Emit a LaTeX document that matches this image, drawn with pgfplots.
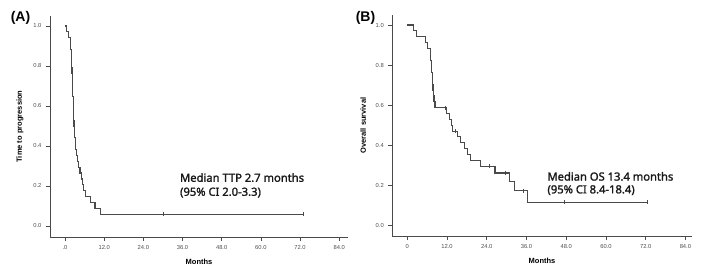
\documentclass[border=0pt]{standalone}
\usepackage{pgfplots}
\usepackage{pgfplotstable}
\pgfplotsset{compat=1.18}
\usepackage{fontspec}
\setmainfont{Liberation Sans}
\newfontfamily\annfont[FakeBold=1.6]{Noto Sans}

\pgfplotstableread{
t S
0 1.000
0.5 0.971
1.2 0.941
1.7 0.912
1.8 0.882
1.9 0.853
2.0 0.824
2.1 0.794
2.15 0.765
2.2 0.735
2.3 0.706
2.35 0.676
2.4 0.647
2.5 0.618
2.55 0.588
2.6 0.559
2.7 0.529
2.75 0.500
2.85 0.471
3.0 0.441
3.1 0.412
3.2 0.382
3.4 0.353
3.8 0.324
4.2 0.294
4.6 0.265
5.0 0.235
5.4 0.206
5.8 0.176
6.4 0.147
7.7 0.118
9.2 0.088
11.0 0.059
73.0 0.059
}\ttp
\pgfplotstableread{
t S
30.1 0.059
73.0 0.059
}\ttpc

\pgfplotstableread{
t S
0 1.000
2.0 0.971
2.9 0.941
5.4 0.912
6.2 0.882
6.9 0.853
7.0 0.824
7.2 0.794
7.3 0.765
7.5 0.735
7.6 0.706
7.8 0.676
7.9 0.647
8.1 0.618
8.4 0.588
11.9 0.559
12.7 0.529
13.4 0.500
13.6 0.471
15.2 0.443
16.2 0.414
17.3 0.385
18.3 0.356
19.2 0.327
22.0 0.297
26.5 0.263
31.0 0.219
32.5 0.175
36.4 0.117
72.6 0.117
}\os
\pgfplotstableread{
t S
11.6 0.588
14.4 0.471
24.8 0.297
29.5 0.263
35.0 0.175
47.4 0.117
72.6 0.117
}\osc

\definecolor{ln}{HTML}{4A4A4A}

\pgfplotsset{
  kmaxis/.style={
    scale only axis,
    anchor=south west,
    axis lines=left,
    axis line style={-, ln, line width=1pt},
    tick style={ln, line width=0.7pt},
    tick align=outside,
    major tick length=4pt,
    ymin=-0.055, ymax=1.05,
    ytick={0,0.2,0.4,0.6,0.8,1.0},
    yticklabels={0.0,0.2,0.4,0.6,0.8,1.0},
    xtick={0,12,24,36,48,60,72,84},
    ticklabel style={font=\fontsize{5.8}{6}\selectfont, text=black!70},
    /pgf/number format/assume math mode=true,
    xlabel={\bfseries Months},
    label style={font=\fontsize{7.5}{8}\selectfont},
    xlabel style={at={(ticklabel cs:0.5)}, anchor=north, yshift=-3pt},
    ylabel style={at={(ticklabel cs:0.5)}, anchor=south, yshift=3pt},
    xticklabel style={yshift=-1pt},
    yticklabel style={xshift=-1pt},
  },
  km/.style={const plot, no marks, ln, line width=1.1pt},
  cens/.style={only marks, mark=|, mark size=2pt, mark options={ln, line width=0.7pt}},
}

\begin{document}
\begin{tikzpicture}[x=1pt,y=1pt]
\path[use as bounding box] (0,0) rectangle (703,271);
\node[font=\fontsize{14}{16}\selectfont\bfseries, anchor=center] at (20.5,253.5) {(A)};
\node[font=\fontsize{14}{16}\selectfont\bfseries, anchor=center] at (365.5,253.5) {(B)};

\begin{axis}[kmaxis,
  at={(50pt,34pt)}, width=298pt, height=221pt,
  xmin=-4.6, xmax=86.7,
  xticklabels={.0,12.0,24.0,36.0,48.0,60.0,72.0,84.0},
  ylabel={\bfseries Time to progression},
]
\addplot[km] table[x=t,y=S] {\ttp};
\addplot[cens] table[x=t,y=S] {\ttpc};
\node[anchor=west, align=left, font=\annfont\fontsize{11.2}{14}\selectfont, inner sep=0pt, text=black!90]
  at (axis cs:35.2,0.203) {Median TTP 2.7 months\\(95\% CI 2.0-3.3)};
\end{axis}

\begin{axis}[kmaxis,
  at={(392.3pt,35pt)}, width=299.4pt, height=221pt,
  xmin=-4.5, xmax=85.9,
  ymin=-0.051,
  xticklabels={0,12.0,24.0,36.0,48.0,60.0,72.0,84.0},
  ylabel={\bfseries Overall survival},
]
\addplot[km] table[x=t,y=S] {\os};
\addplot[cens] table[x=t,y=S] {\osc};
\node[anchor=west, align=left, font=\annfont\fontsize{11.2}{12.8}\selectfont, inner sep=0pt, text=black!90]
  at (axis cs:42.3,0.210) {Median OS 13.4 months\\(95\% CI 8.4-18.4)};
\end{axis}
\end{tikzpicture}
\end{document}
